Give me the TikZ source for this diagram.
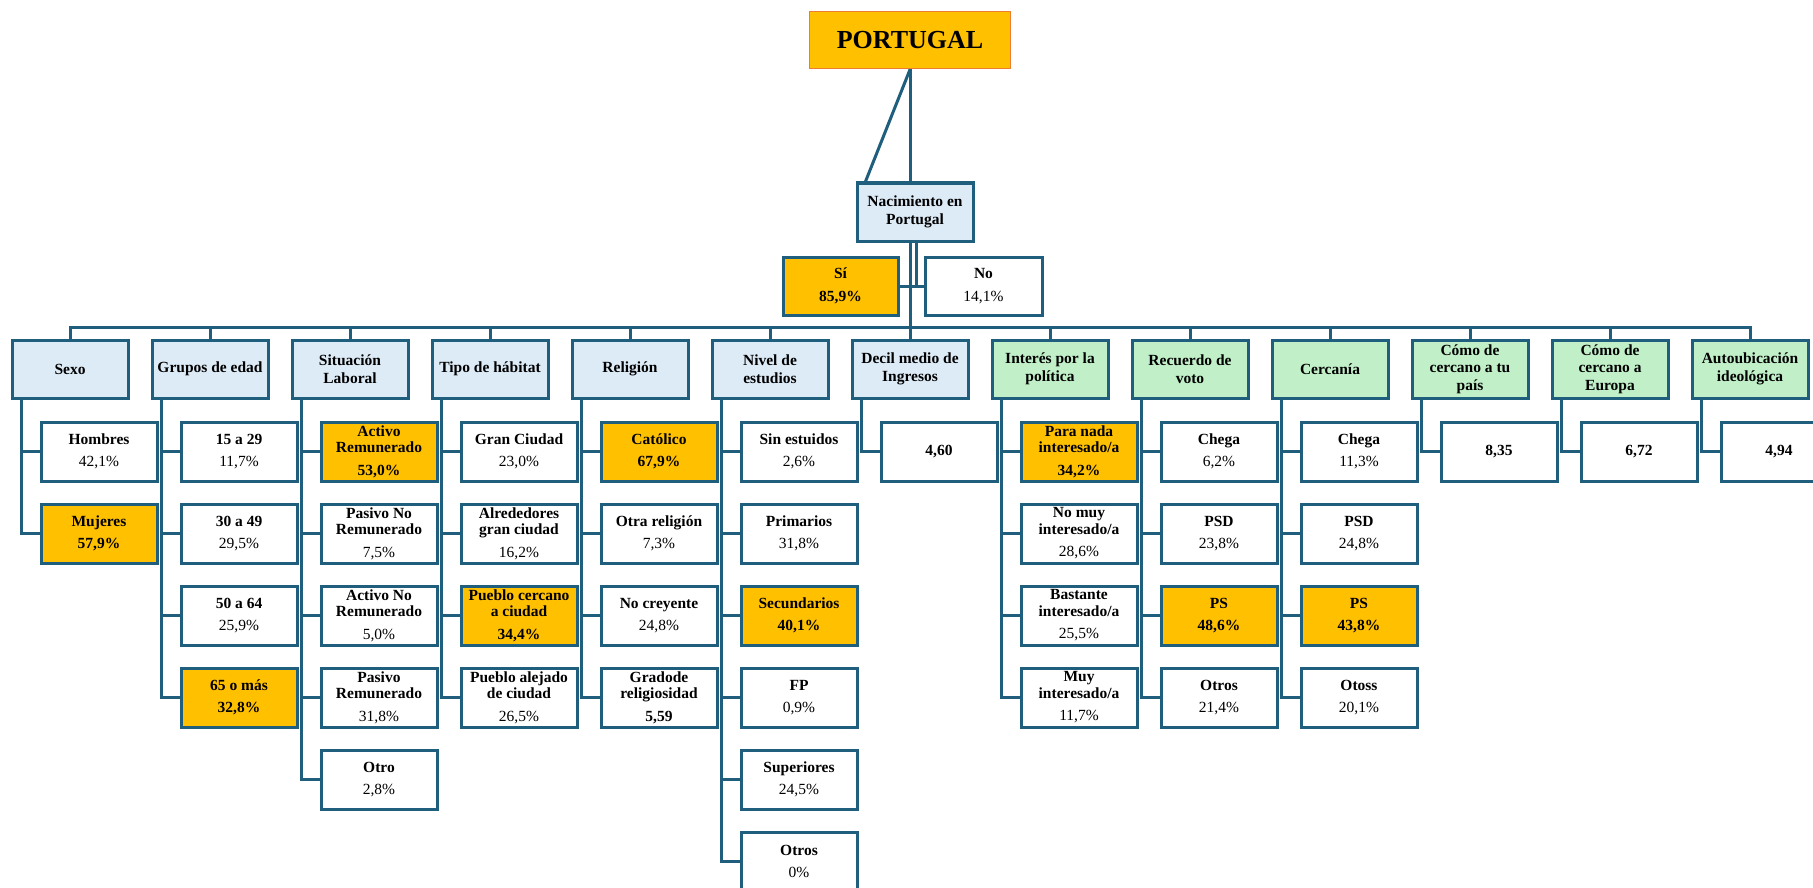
\documentclass[tikz,border=0pt]{standalone}
\usepackage{fontspec}
\setmainfont{Liberation Serif}
\definecolor{linea}{RGB}{31,94,124}
\definecolor{naranja}{RGB}{255,192,0}
\definecolor{azul}{RGB}{221,235,247}
\definecolor{verde}{RGB}{193,240,200}
\definecolor{borde}{RGB}{237,125,49}

\begin{document}
\begin{tikzpicture}[x=1pt,y=-1pt,
  every node/.style={inner sep=0pt, align=center},
  cab/.style={draw=linea, line width=3pt, minimum width=116pt, minimum height=58pt, font=\fontsize{15.5}{17.5}\selectfont\bfseries},
  cabA/.style={cab, fill=azul},
  cabV/.style={cab, fill=verde},
  hoja/.style={draw=linea, line width=3pt, fill=white, minimum width=116pt, minimum height=59pt, font=\fontsize{15.5}{16.5}\selectfont\bfseries},
  hojaN/.style={hoja, fill=naranja},
  rama/.style={draw=linea, line width=3pt}]
      \useasboundingbox (0,0) rectangle (1813,888);
      \node [draw=borde, line width=1pt, fill=naranja, minimum width=201pt, minimum height=57pt, font=\fontsize{26}{28}\selectfont\bfseries] (port) at (910,40.5) {PORTUGAL};
      \coordinate (bus) at (910,327);
      \draw [rama] (port.south) -- (port.south |- bus);
      \node [cabA] (nac) at (915,212) {Nacimiento en\\Portugal};
      \draw [rama] (port.south) -- ([xshift=10pt]nac.north west);
      \node [hojaN, minimum width=115pt, minimum height=58pt] (si) at (840.5,286) {Sí\\[6pt]85,9\%};
      \node [hoja, minimum width=117pt, minimum height=58pt] (no) at (983.5,286) {No\\[6pt]\mdseries 14,1\%};
      \draw [rama] (si.east) -- (no.west);
      \draw [rama] ([xshift=1pt]nac.south) -- ([xshift=1pt]nac.south |- si.east);
      \node [cabA] (sexo) at (70,369) {Sexo};
      \node [cabA] (edad) at (210,369) {Grupos de edad};
      \node [cabA] (lab) at (350,369) {Situación\\Laboral};
      \node [cabA] (hab) at (490,369) {Tipo de hábitat};
      \node [cabA] (rel) at (630,369) {Religión};
      \node [cabA] (est) at (770,369) {Nivel de\\estudios};
      \node [cabA] (dec) at (910,369) {Decil medio de\\Ingresos};
      \node [cabV] (int) at (1050,369) {Interés por la\\política};
      \node [cabV] (voto) at (1190,369) {Recuerdo de\\voto};
      \node [cabV] (cerc) at (1330,369) {Cercanía};
      \node [cabV] (pais) at (1470,369) {Cómo de\\cercano a tu\\país};
      \node [cabV] (eur) at (1610,369) {Cómo de\\cercano a\\Europa};
      \node [cabV] (ideo) at (1750,369) {Autoubicación\\ideológica};
      \draw [rama] (sexo.north) |- (bus) -| (ideo.north);
      \draw [rama] (edad.north) -- (edad.north |- bus);
      \draw [rama] (lab.north) -- (lab.north |- bus);
      \draw [rama] (hab.north) -- (hab.north |- bus);
      \draw [rama] (rel.north) -- (rel.north |- bus);
      \draw [rama] (est.north) -- (est.north |- bus);
      \draw [rama] (dec.north) -- (dec.north |- bus);
      \draw [rama] (int.north) -- (int.north |- bus);
      \draw [rama] (voto.north) -- (voto.north |- bus);
      \draw [rama] (cerc.north) -- (cerc.north |- bus);
      \draw [rama] (pais.north) -- (pais.north |- bus);
      \draw [rama] (eur.north) -- (eur.north |- bus);
      \node [hoja] (sexo1) at (99,451.5) {Hombres\\[6pt]\mdseries 42,1\%};
      \node [hojaN] (sexo2) at (99,533.5) {Mujeres\\[6pt]57,9\%};
      \node [hoja] (edad1) at (239,451.5) {15 a 29\\[6pt]\mdseries 11,7\%};
      \node [hoja] (edad2) at (239,533.5) {30 a 49\\[6pt]\mdseries 29,5\%};
      \node [hoja] (edad3) at (239,615.5) {50 a 64\\[6pt]\mdseries 25,9\%};
      \node [hojaN] (edad4) at (239,697.5) {65 o más\\[6pt]32,8\%};
      \node [hojaN] (lab1) at (379,451.5) {Activo\\Remunerado\\[6pt]53,0\%};
      \node [hoja] (lab2) at (379,533.5) {Pasivo No\\Remunerado\\[6pt]\mdseries 7,5\%};
      \node [hoja] (lab3) at (379,615.5) {Activo No\\Remunerado\\[6pt]\mdseries 5,0\%};
      \node [hoja] (lab4) at (379,697.5) {Pasivo\\Remunerado\\[6pt]\mdseries 31,8\%};
      \node [hoja] (lab5) at (379,779.5) {Otro\\[6pt]\mdseries 2,8\%};
      \node [hoja] (hab1) at (519,451.5) {Gran Ciudad\\[6pt]\mdseries 23,0\%};
      \node [hoja] (hab2) at (519,533.5) {Alrededores\\gran ciudad\\[6pt]\mdseries 16,2\%};
      \node [hojaN] (hab3) at (519,615.5) {Pueblo cercano\\a ciudad\\[6pt]34,4\%};
      \node [hoja] (hab4) at (519,697.5) {Pueblo alejado\\de ciudad\\[6pt]\mdseries 26,5\%};
      \node [hojaN] (rel1) at (659,451.5) {Católico\\[6pt]67,9\%};
      \node [hoja] (rel2) at (659,533.5) {Otra religión\\[6pt]\mdseries 7,3\%};
      \node [hoja] (rel3) at (659,615.5) {No creyente\\[6pt]\mdseries 24,8\%};
      \node [hoja] (rel4) at (659,697.5) {Gradode\\religiosidad\\[6pt]5,59};
      \node [hoja] (est1) at (799,451.5) {Sin estuidos\\[6pt]\mdseries 2,6\%};
      \node [hoja] (est2) at (799,533.5) {Primarios\\[6pt]\mdseries 31,8\%};
      \node [hojaN] (est3) at (799,615.5) {Secundarios\\[6pt]40,1\%};
      \node [hoja] (est4) at (799,697.5) {FP\\[6pt]\mdseries 0,9\%};
      \node [hoja] (est5) at (799,779.5) {Superiores\\[6pt]\mdseries 24,5\%};
      \node [hoja] (est6) at (799,861.5) {Otros\\[6pt]\mdseries 0\%};
      \node [hoja] (dec1) at (939,451.5) {4,60};
      \node [hojaN] (int1) at (1079,451.5) {Para nada\\interesado/a\\[6pt]34,2\%};
      \node [hoja] (int2) at (1079,533.5) {No muy\\interesado/a\\[6pt]\mdseries 28,6\%};
      \node [hoja] (int3) at (1079,615.5) {Bastante\\interesado/a\\[6pt]\mdseries 25,5\%};
      \node [hoja] (int4) at (1079,697.5) {Muy\\interesado/a\\[6pt]\mdseries 11,7\%};
      \node [hoja] (voto1) at (1219,451.5) {Chega\\[6pt]\mdseries 6,2\%};
      \node [hoja] (voto2) at (1219,533.5) {PSD\\[6pt]\mdseries 23,8\%};
      \node [hojaN] (voto3) at (1219,615.5) {PS\\[6pt]48,6\%};
      \node [hoja] (voto4) at (1219,697.5) {Otros\\[6pt]\mdseries 21,4\%};
      \node [hoja] (cerc1) at (1359,451.5) {Chega\\[6pt]\mdseries 11,3\%};
      \node [hoja] (cerc2) at (1359,533.5) {PSD\\[6pt]\mdseries 24,8\%};
      \node [hojaN] (cerc3) at (1359,615.5) {PS\\[6pt]43,8\%};
      \node [hoja] (cerc4) at (1359,697.5) {Otoss\\[6pt]\mdseries 20,1\%};
      \node [hoja] (pais1) at (1499,451.5) {8,35};
      \node [hoja] (eur1) at (1639,451.5) {6,72};
      \node [hoja] (ideo1) at (1779,451.5) {4,94};
      \draw [rama] ([xshift=11pt]sexo.south west) |- (sexo1.west);
      \draw [rama] ([xshift=11pt]sexo.south west) |- (sexo2.west);
      \draw [rama] ([xshift=11pt]edad.south west) |- (edad1.west);
      \draw [rama] ([xshift=11pt]edad.south west) |- (edad2.west);
      \draw [rama] ([xshift=11pt]edad.south west) |- (edad3.west);
      \draw [rama] ([xshift=11pt]edad.south west) |- (edad4.west);
      \draw [rama] ([xshift=11pt]lab.south west) |- (lab1.west);
      \draw [rama] ([xshift=11pt]lab.south west) |- (lab2.west);
      \draw [rama] ([xshift=11pt]lab.south west) |- (lab3.west);
      \draw [rama] ([xshift=11pt]lab.south west) |- (lab4.west);
      \draw [rama] ([xshift=11pt]lab.south west) |- (lab5.west);
      \draw [rama] ([xshift=11pt]hab.south west) |- (hab1.west);
      \draw [rama] ([xshift=11pt]hab.south west) |- (hab2.west);
      \draw [rama] ([xshift=11pt]hab.south west) |- (hab3.west);
      \draw [rama] ([xshift=11pt]hab.south west) |- (hab4.west);
      \draw [rama] ([xshift=11pt]rel.south west) |- (rel1.west);
      \draw [rama] ([xshift=11pt]rel.south west) |- (rel2.west);
      \draw [rama] ([xshift=11pt]rel.south west) |- (rel3.west);
      \draw [rama] ([xshift=11pt]rel.south west) |- (rel4.west);
      \draw [rama] ([xshift=11pt]est.south west) |- (est1.west);
      \draw [rama] ([xshift=11pt]est.south west) |- (est2.west);
      \draw [rama] ([xshift=11pt]est.south west) |- (est3.west);
      \draw [rama] ([xshift=11pt]est.south west) |- (est4.west);
      \draw [rama] ([xshift=11pt]est.south west) |- (est5.west);
      \draw [rama] ([xshift=11pt]est.south west) |- (est6.west);
      \draw [rama] ([xshift=11pt]dec.south west) |- (dec1.west);
      \draw [rama] ([xshift=11pt]int.south west) |- (int1.west);
      \draw [rama] ([xshift=11pt]int.south west) |- (int2.west);
      \draw [rama] ([xshift=11pt]int.south west) |- (int3.west);
      \draw [rama] ([xshift=11pt]int.south west) |- (int4.west);
      \draw [rama] ([xshift=11pt]voto.south west) |- (voto1.west);
      \draw [rama] ([xshift=11pt]voto.south west) |- (voto2.west);
      \draw [rama] ([xshift=11pt]voto.south west) |- (voto3.west);
      \draw [rama] ([xshift=11pt]voto.south west) |- (voto4.west);
      \draw [rama] ([xshift=11pt]cerc.south west) |- (cerc1.west);
      \draw [rama] ([xshift=11pt]cerc.south west) |- (cerc2.west);
      \draw [rama] ([xshift=11pt]cerc.south west) |- (cerc3.west);
      \draw [rama] ([xshift=11pt]cerc.south west) |- (cerc4.west);
      \draw [rama] ([xshift=11pt]pais.south west) |- (pais1.west);
      \draw [rama] ([xshift=11pt]eur.south west) |- (eur1.west);
      \draw [rama] ([xshift=11pt]ideo.south west) |- (ideo1.west);
\end{tikzpicture}
\end{document}
